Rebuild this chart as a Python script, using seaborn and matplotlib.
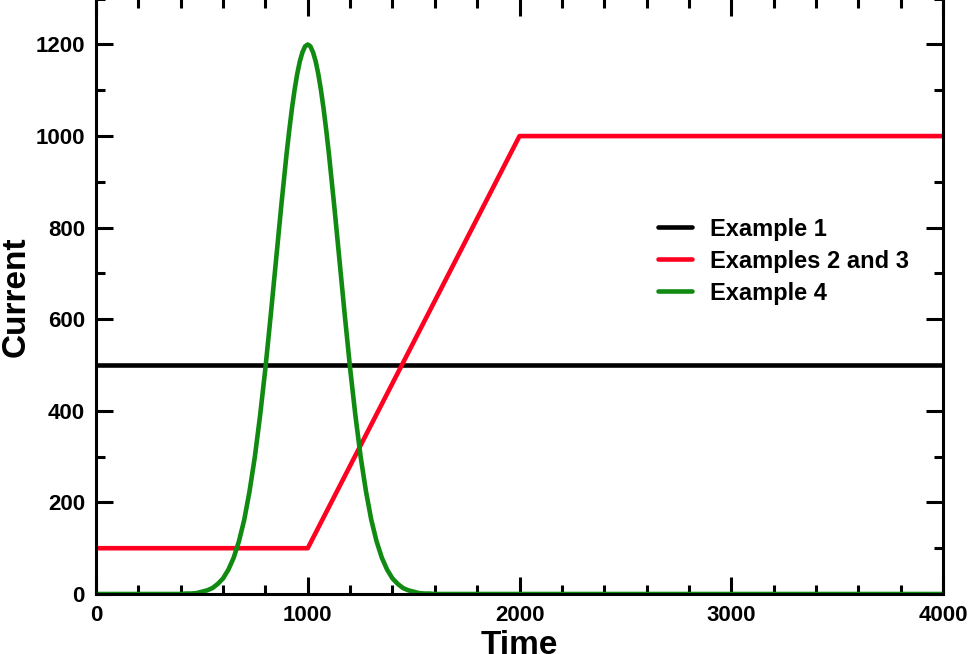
import numpy as np
import pandas as pd
import seaborn as sns
import matplotlib.pyplot as plt

# Example 1: constant current
ex1_time = [0, 4000]
ex1_current = [500, 500]

# Examples 2 and 3: flat, ramp, flat
ex23_time = [0, 1000, 2000, 4000]
ex23_current = [100, 100, 1000, 1000]

# Example 4: pulse centred at t=1000
ex4_time = [0, 350, 375, 400, 425, 450, 475, 500, 525, 550, 575, 600, 625, 650,
            675, 700, 725, 750, 775, 800, 825, 850, 875, 900, 912.5, 925, 937.5,
            950, 962.5, 975, 987.5, 1000, 1012.5, 1025, 1037.5, 1050, 1062.5,
            1075, 1087.5, 1100, 1125, 1150, 1175, 1200, 1225, 1250,
            1275, 1300, 1325, 1350, 1375, 1400, 1425, 1450, 1475, 1500, 1525,
            1550, 1575, 1600, 1625, 1650, 4000]
ex4_current = [0, 0, 0, 0, 1, 1, 2, 5, 8, 13, 22, 34, 53, 79,
               115, 162, 224, 299, 390, 493, 608, 728, 848, 961, 1012, 1059, 1100,
               1135, 1163, 1183, 1196, 1200, 1196, 1183, 1163, 1135, 1100,
               1059, 1012, 961, 848, 728, 608, 493, 390, 299,
               224, 162, 115, 79, 53, 34, 22, 13, 8, 5, 2,
               1, 1, 0, 0, 0, 0]

labels = ["Example 1", "Examples 2 and 3", "Example 4"]
colors = ["#000000", "#ff0020", "#108a10"]

df = pd.concat([
    pd.DataFrame({"Time": ex1_time, "Current": ex1_current, "series": labels[0]}),
    pd.DataFrame({"Time": ex23_time, "Current": ex23_current, "series": labels[1]}),
    pd.DataFrame({"Time": ex4_time, "Current": ex4_current, "series": labels[2]}),
], ignore_index=True)

sns.set_style("ticks")
plt.rcParams["font.family"] = ["Liberation Sans", "DejaVu Sans"]
plt.rcParams["font.weight"] = "bold"
plt.rcParams["text.color"] = "black"
plt.rcParams["axes.labelcolor"] = "black"
plt.rcParams["xtick.color"] = "black"
plt.rcParams["ytick.color"] = "black"

fig = plt.figure(figsize=(9.69, 6.54), dpi=100)
ax = fig.add_axes([96 / 969, 1 - 594 / 654, 847 / 969, 594 / 654 + 0.002])

sns.lineplot(data=df, x="Time", y="Current", hue="series", hue_order=labels,
             palette=colors, linewidth=3.3, sort=False, estimator=None, ax=ax)

ax.set_xlim(0, 4000)
ax.set_ylim(0, 1300)
ax.set_xticks(np.arange(0, 4001, 1000))
ax.set_xticks(np.arange(0, 4001, 200), minor=True)
ax.set_yticks(np.arange(0, 1201, 200))
ax.set_yticks(np.arange(0, 1301, 100), minor=True)

for side in ["top", "right", "bottom", "left"]:
    ax.spines[side].set_visible(True)
    ax.spines[side].set_linewidth(2.2)
    ax.spines[side].set_color("black")

ax.tick_params(which="both", direction="in", top=True, right=True,
               width=2.2, color="black", labelcolor="black")
ax.tick_params(which="major", length=12, labelsize=16, pad=8)
ax.tick_params(which="minor", length=6.5)
for lbl in ax.get_xticklabels() + ax.get_yticklabels():
    lbl.set_fontweight("bold")

ax.set_xlabel("Time", fontsize=24, fontweight="bold", labelpad=3)
ax.set_ylabel("Current", fontsize=24, fontweight="bold", labelpad=3)

leg = ax.legend(loc="center left", bbox_to_anchor=(0.652, 0.559), frameon=False,
                fontsize=17, handlelength=1.45, handletextpad=0.75,
                labelspacing=0.38, borderaxespad=0)
for t in leg.get_texts():
    t.set_fontweight("bold")
    t.set_color("black")
for h in leg.get_lines():
    h.set_linewidth(3.3)

fig.savefig("out.png", dpi=100)
